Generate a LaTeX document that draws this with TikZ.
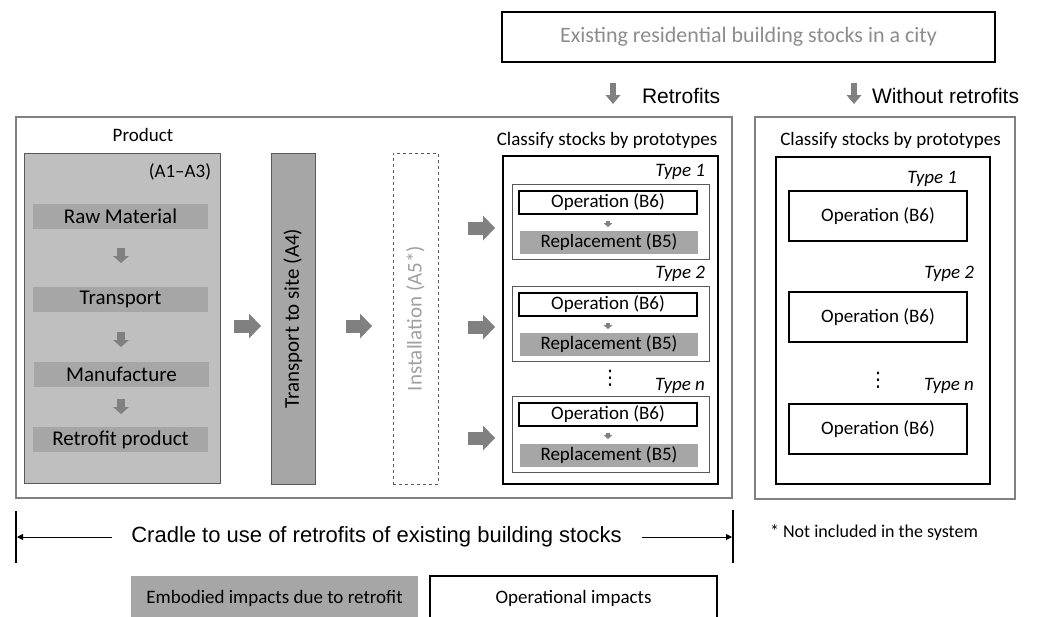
\documentclass[tikz,border=0pt]{standalone}
\usepackage{fontspec}
\setmainfont{Carlito}
\newfontfamily\arialf{Liberation Sans}
\newfontfamily\dejavuf{DejaVu Sans}
\usetikzlibrary{arrows.meta}
\definecolor{lg}{HTML}{BFBFBF}
\definecolor{mg}{HTML}{A6A6A6}
\definecolor{ag}{HTML}{808080}
\definecolor{tg}{HTML}{8C8C8C}
\definecolor{bd}{HTML}{595959}
\definecolor{ig}{HTML}{A0A0A0}
\newcommand{\fsz}[1]{\fontsize{#1}{#1}\selectfont}
\begin{document}
\begin{tikzpicture}[x=1pt,y=-1pt,
  box/.style={inner sep=0pt, outer sep=0pt, anchor=north west},
  lbl/.style={inner sep=0pt, outer sep=0pt},
  stepbox/.style={inner sep=0pt, outer sep=0pt, fill=mg, minimum width=175pt, minimum height=25pt, font=\fsz{21}},
  opbox/.style={box, draw=black, line width=1.6pt, minimum width=178pt, minimum height=23pt, font=\fsz{19}},
  repbox/.style={box, fill=mg, minimum width=178pt, minimum height=23pt, font=\fsz{19}},
  typebox/.style={box, draw=bd, line width=0.9pt, minimum width=197pt, minimum height=75pt},
  ropbox/.style={box, draw=black, line width=1.3pt, minimum width=178pt, minimum height=50pt, font=\fsz{19}},
  typelbl/.style={lbl, anchor=east, font=\fsz{19}\itshape},
  dotslbl/.style={lbl, font=\dejavuf\fsz{20}},
  bigarrow/.style={draw=ag, line width=13pt, -{Triangle[length=12pt,width=25pt,line width=0pt]}},
  smallarrow/.style={draw=ag, line width=8pt, -{Triangle[length=7pt,width=16pt,line width=0pt]}},
  downarrow/.style={draw=ag, line width=6pt, -{Triangle[length=9pt,width=15pt,line width=0pt]}},
  tinyarrow/.style={draw=ag, line width=4pt, -{Triangle[length=4pt,width=9pt,line width=0pt]}},
  thinarrow/.style={draw=black, line width=0.9pt, -{Triangle[length=6pt,width=6pt]}},
  bar/.style={draw=black, line width=1.5pt}
]
\useasboundingbox (0,0) rectangle (1041,616);

% top box
\node[box, draw=black, line width=1.3pt, minimum width=493pt, minimum height=50pt] (top) at (502,12) {};
\node[lbl, text=tg, font=\fsz{22}] (toptxt) at (top.center) {Existing residential building stocks in a city};

\coordinate (r1s) at (613,83); \coordinate (r1e) at (613,104);
\draw[downarrow] (r1s) -- (r1e);
\node[lbl, anchor=west, font=\arialf\fsz{21}] (retro) at (642,96) {Retrofits};
\coordinate (r2s) at (854,83); \coordinate (r2e) at (854,104);
\draw[downarrow] (r2s) -- (r2e);
\node[lbl, anchor=west, font=\arialf\fsz{21}] (wretro) at (872,96) {Without retrofits};

% outer boxes
\node[box, draw=ag, line width=1.5pt, minimum width=716pt, minimum height=381pt] (outerL) at (16,117) {};
\node[box, draw=ag, line width=1.5pt, minimum width=260pt, minimum height=382pt] (outerR) at (755,117) {};

% product
\node[lbl, font=\fsz{19}] (prodlbl) at (143,135) {Product};
\node[box, fill=lg, draw=bd, line width=1pt, minimum width=196pt, minimum height=330pt] (prod) at (24,153) {};
\node[lbl, anchor=east, font=\fsz{19}] (a13) at (211,172) {(A1--A3)};
\node[stepbox] (raw) at (120.5,216.5) {Raw Material};
\node[stepbox] (trans) at (120.5,299.5) {Transport};
\node[stepbox] (manu) at (121.5,374) {Manufacture};
\node[stepbox] (rprod) at (120.5,439.5) {Retrofit product};
\coordinate (s1a) at (121,248); \coordinate (s1b) at (121,263);
\coordinate (s2a) at (121,332); \coordinate (s2b) at (121,347);
\coordinate (s3a) at (121,399); \coordinate (s3b) at (121,414);
\draw[smallarrow] (s1a) -- (s1b);
\draw[smallarrow] (s2a) -- (s2b);
\draw[smallarrow] (s3a) -- (s3b);

% transport to site
\node[box, fill=mg, draw=bd, line width=1pt, minimum width=44pt, minimum height=331pt] (tsite) at (271,153) {};
\node[lbl, rotate=90, font=\fsz{21}] (tsitetxt) at (tsite.center) {Transport to site (A4)};
\coordinate (b1a) at (234,326); \coordinate (b1b) at (261,326);
\draw[bigarrow] (b1a) -- (b1b);
\coordinate (b2a) at (346,326); \coordinate (b2b) at (372,326);
\draw[bigarrow] (b2a) -- (b2b);

% installation
\node[box, draw=bd, dashed, line width=0.8pt, minimum width=45pt, minimum height=331pt] (inst) at (393,153) {};
\node[lbl, rotate=90, text=ig, font=\fsz{21}] (insttxt) at (inst.center) {Installation (A5*)};

% classify (retrofits)
\node[lbl, font=\fsz{19}] (clsL) at (607,140) {Classify stocks by prototypes};
\node[box, draw=black, line width=1.5pt, minimum width=215pt, minimum height=328pt] (inL) at (503,156) {};
\node[typelbl] (t1) at (705,172) {Type 1};
\node[typelbl] (t2) at (705,274) {Type 2};
\node[typelbl] (tn) at (705,386) {Type n};
\node[typebox] (tb1) at (512,184) {};
\node[typebox] (tb2) at (512,286) {};
\node[typebox, minimum height=76pt] (tbn) at (512,396) {};
\node[opbox] (op1) at (519,191) {Operation (B6)};
\node[opbox] (op2) at (519,293) {Operation (B6)};
\node[opbox] (opn) at (519,403) {Operation (B6)};
\node[repbox] (rp1) at (520,231) {Replacement (B5)};
\node[repbox] (rp2) at (520,333) {Replacement (B5)};
\node[repbox] (rpn) at (520,444) {Replacement (B5)};
\coordinate (ta1) at (608,221); \coordinate (tb1e) at (608,227);
\coordinate (ta2) at (608,323); \coordinate (tb2e) at (608,329);
\coordinate (ta3) at (608,433); \coordinate (tb3e) at (608,439);
\draw[tinyarrow] (ta1) -- (tb1e);
\draw[tinyarrow] (ta2) -- (tb2e);
\draw[tinyarrow] (ta3) -- (tb3e);
\node[dotslbl] (dotsL) at (610,378.5) {⋮};
\coordinate (c1a) at (468,228); \coordinate (c1b) at (495,228);
\coordinate (c2a) at (468,327); \coordinate (c2b) at (495,327);
\coordinate (c3a) at (468,438); \coordinate (c3b) at (495,438);
\draw[bigarrow] (c1a) -- (c1b);
\draw[bigarrow] (c2a) -- (c2b);
\draw[bigarrow] (c3a) -- (c3b);

% classify (without retrofits)
\node[lbl, font=\fsz{19}] (clsR) at (890.5,140) {Classify stocks by prototypes};
\node[box, draw=black, line width=1.5pt, minimum width=214pt, minimum height=327pt] (inR) at (776,157) {};
\node[typelbl] (rt1) at (957,179) {Type 1};
\node[typelbl] (rt2) at (974,274) {Type 2};
\node[typelbl] (rtn) at (974,386) {Type n};
\node[ropbox] (rop1) at (789,191) {Operation (B6)};
\node[ropbox] (rop2) at (789,292) {Operation (B6)};
\node[ropbox] (ropn) at (789,404) {Operation (B6)};
\node[dotslbl] (dotsR) at (878,380) {⋮};

% bottom scale
\coordinate (lb1) at (16,511); \coordinate (lb2) at (16,563);
\coordinate (rb1) at (733,510); \coordinate (rb2) at (733,563);
\draw[bar] (lb1) -- (lb2);
\draw[bar] (rb1) -- (rb2);
\node[lbl, font=\arialf\fsz{22}] (cradle) at (376.5,537) {Cradle to use of retrofits of existing building stocks};
\coordinate (la) at (112,537); \coordinate (lz) at (17,537);
\coordinate (ra) at (642,537); \coordinate (rz) at (732,537);
\draw[thinarrow] (la) -- (lz);
\draw[thinarrow] (ra) -- (rz);
\node[lbl, font=\fsz{18}] (note) at (874,533) {* Not included in the system};

% legend
\node[box, fill=mg, minimum width=287pt, minimum height=44pt] (emb) at (131,576) {};
\node[lbl, font=\fsz{19}] (embt) at (274.5,598) {Embodied impacts due to retrofit};
\node[box, draw=black, line width=1.3pt, minimum width=287pt, minimum height=44pt] (opl) at (430,576) {};
\node[lbl, font=\fsz{19}] (oplt) at (573.5,598) {Operational impacts};
\end{tikzpicture}
\end{document}
